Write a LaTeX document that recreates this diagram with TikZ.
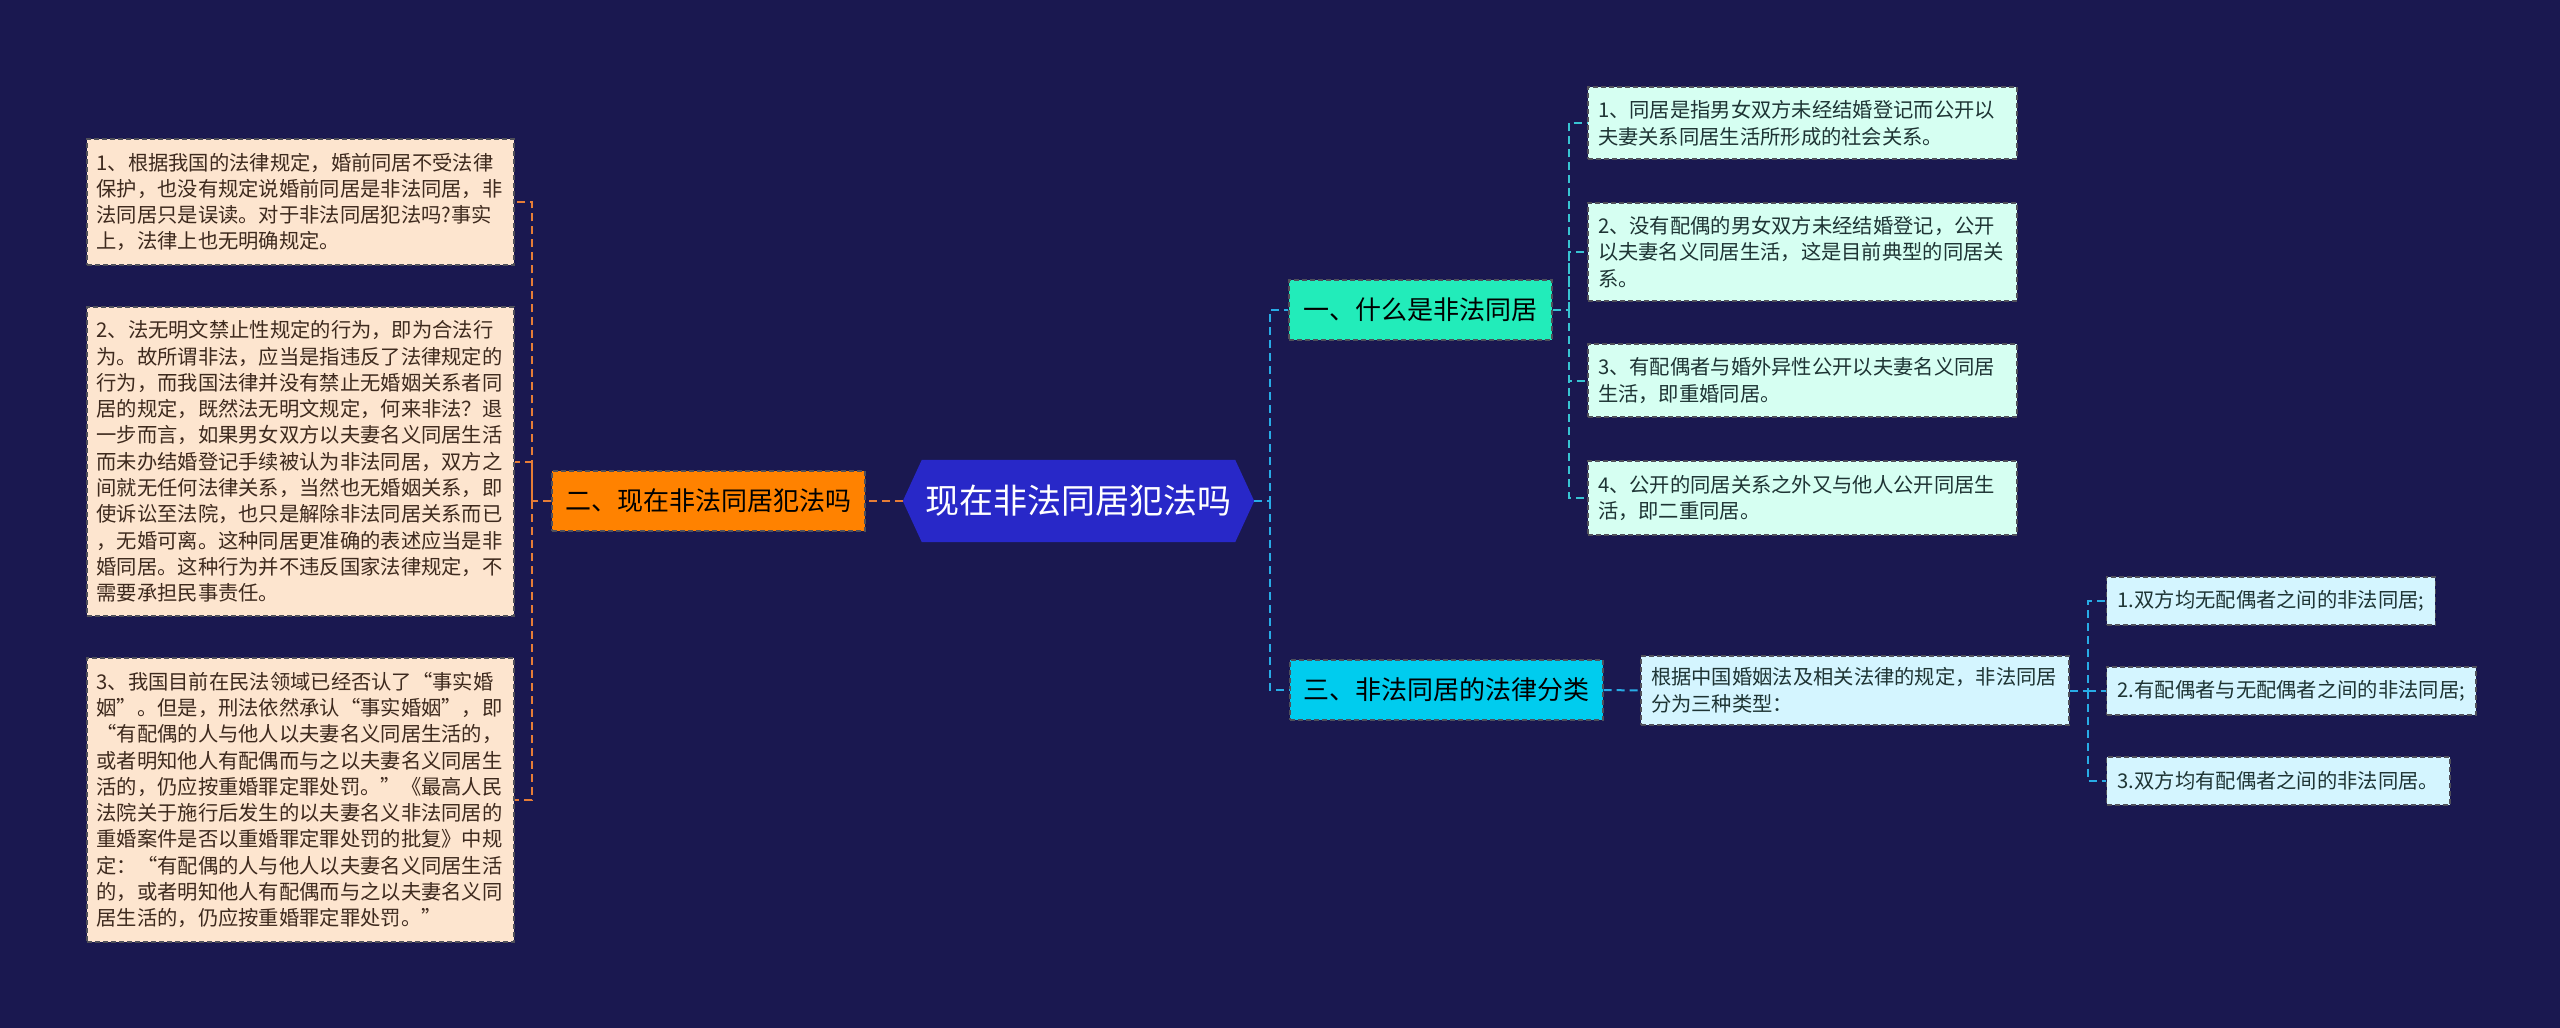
\documentclass[tikz,border=0pt]{standalone}
\usepackage{fontspec}
\setmainfont{Noto Sans CJK SC}
\pgfdeclarelayer{bg}
\pgfsetlayers{bg,main}
\definecolor{bgc}{RGB}{26,24,80}
\definecolor{peach}{RGB}{253,229,207}
\definecolor{peachtxt}{RGB}{62,42,30}
\definecolor{orangec}{RGB}{255,130,0}
\definecolor{orangeline}{RGB}{230,125,55}
\definecolor{rootc}{RGB}{40,40,200}
\definecolor{tealc}{RGB}{34,236,186}
\definecolor{mint}{RGB}{214,255,242}
\definecolor{cyanc}{RGB}{0,204,238}
\definecolor{lcyan}{RGB}{212,245,255}
\definecolor{rtxt}{RGB}{30,52,52}
\definecolor{tline}{RGB}{56,196,210}
\definecolor{bline}{RGB}{40,172,230}
\definecolor{bord}{RGB}{80,80,90}
\tikzset{
  boxbase/.style={draw=bord, line width=1.2pt, dash pattern=on 5pt off 3pt, inner ysep=0pt, align=left},
  lbox/.style={boxbase, fill=peach, text=peachtxt, text width=408pt, inner xsep=9.5pt,
    font=\fontsize{20.3pt}{26.3pt}\selectfont},
  cbox/.style={boxbase, fill=mint, text=rtxt, text width=409pt, inner xsep=10pt,
    font=\fontsize{20.3pt}{26.6pt}\selectfont},
  dbox/.style={boxbase, fill=lcyan, text=rtxt, inner xsep=11pt, minimum height=48pt, anchor=west,
    font=\fontsize{20.3pt}{26.6pt}\selectfont},
  mainbr/.style={boxbase, inner xsep=0pt, align=center, minimum height=60pt,
    font=\fontsize{26pt}{30pt}\selectfont},
  rootnode/.style={inner sep=0pt, minimum width=351pt, minimum height=82pt, text=white,
    font=\fontsize{34pt}{38pt}\selectfont},
  conn/.style={line width=2pt, dash pattern=on 8pt off 5pt},
  oline/.style={conn, draw=orangeline},
  tconn/.style={conn, draw=tline},
  bconn/.style={conn, draw=bline},
}
\begin{document}
\begin{tikzpicture}[x=1pt,y=-1pt]
\begin{pgfonlayer}{bg}
\fill[bgc] (0,0) rectangle (2560,1028);
\end{pgfonlayer}
\useasboundingbox (0,0) rectangle (2560,1028);

% root
\node[rootnode] (r) at (1078.5,501) {现在非法同居犯法吗};
\begin{pgfonlayer}{bg}
\fill[rootc] ([xshift=19pt]r.north west) -- ([xshift=-19pt]r.north east) -- (r.east)
  -- ([xshift=-19pt]r.south east) -- ([xshift=19pt]r.south west) -- (r.west) -- cycle;
\end{pgfonlayer}

% left branch
\node[mainbr, fill=orangec, text={RGB:red,80;green,48;blue,20}, minimum width=313pt] (o) at (708.5,501) {二、现在非法同居犯法吗};
\node[lbox, minimum height=126pt] (b1) at (300.5,202) {1、根据我国的法律规定，婚前同居不受法律\\保护，也没有规定说婚前同居是非法同居，非\\法同居只是误读。对于非法同居犯法吗?事实\\上，法律上也无明确规定。};
\node[lbox, minimum height=309pt] (b2) at (300.5,461.5) {2、法无明文禁止性规定的行为，即为合法行\\为。故所谓非法，应当是指违反了法律规定的\\行为，而我国法律并没有禁止无婚姻关系者同\\居的规定，既然法无明文规定，何来非法？退\\一步而言，如果男女双方以夫妻名义同居生活\\而未办结婚登记手续被认为非法同居，双方之\\间就无任何法律关系，当然也无婚姻关系，即\\使诉讼至法院，也只是解除非法同居关系而已\\，无婚可离。这种同居更准确的表述应当是非\\婚同居。这种行为并不违反国家法律规定，不\\需要承担民事责任。};
\node[lbox, minimum height=284pt] (b3) at (300.5,800) {3、我国目前在民法领域已经否认了“事实婚\\姻”。但是，刑法依然承认“事实婚姻”，即\\“有配偶的人与他人以夫妻名义同居生活的，\\或者明知他人有配偶而与之以夫妻名义同居生\\活的，仍应按重婚罪定罪处罚。”《最高人民\\法院关于施行后发生的以夫妻名义非法同居的\\重婚案件是否以重婚罪定罪处罚的批复》中规\\定：“有配偶的人与他人以夫妻名义同居生活\\的，或者明知他人有配偶而与之以夫妻名义同\\居生活的，仍应按重婚罪定罪处罚。”};

\coordinate (lj) at (532,501);
\draw[oline] (r.west) -- (o.east);
\draw[oline] (o.west) -- (lj) |- (b1.east);
\draw[oline] (lj) |- (b2.east);
\draw[oline] (lj) |- (b3.east);

% right branch 1
\node[mainbr, fill=tealc, text={RGB:red,20;green,60;blue,50}, minimum width=263pt] (n1) at (1420.5,310) {一、什么是非法同居};
\node[cbox, minimum height=72pt] (c1) at (1802.5,123) {1、同居是指男女双方未经结婚登记而公开以\\夫妻关系同居生活所形成的社会关系。};
\node[cbox, minimum height=98pt] (c2) at (1802.5,252) {2、没有配偶的男女双方未经结婚登记，公开\\以夫妻名义同居生活，这是目前典型的同居关\\系。};
\node[cbox, minimum height=73pt] (c3) at (1802.5,380.5) {3、有配偶者与婚外异性公开以夫妻名义同居\\生活，即重婚同居。};
\node[cbox, minimum height=74pt] (c4) at (1802.5,498) {4、公开的同居关系之外又与他人公开同居生\\活，即二重同居。};

% right branch 3
\node[mainbr, fill=cyanc, text={RGB:red,20;green,50;blue,70}, minimum width=313pt] (n3) at (1446.5,690) {三、非法同居的法律分类};
\node[cbox, fill=lcyan, text width=408pt, minimum height=69pt] (desc) at (1855,690.5) {根据中国婚姻法及相关法律的规定，非法同居\\分为三种类型：};
\node[dbox] (d1) at (2106,601) {1.双方均无配偶者之间的非法同居;};
\node[dbox] (d2) at (2106,691) {2.有配偶者与无配偶者之间的非法同居;};
\node[dbox] (d3) at (2106,781) {3.双方均有配偶者之间的非法同居。};

\coordinate (rj) at (1270,501);
\draw[bconn] (r.east) -- (rj) |- (n1.west);
\draw[bconn] (rj) |- (n3.west);

\coordinate (j1) at (1569,310);
\draw[tconn] (n1.east) -- (j1) |- (c1.west);
\draw[tconn] (j1) |- (c2.west);
\draw[tconn] (j1) |- (c3.west);
\draw[tconn] (j1) |- (c4.west);

\draw[bconn] (n3.east) -- (desc.west);
\coordinate (j3) at (2088,690.5);
\draw[bconn] (desc.east) -- (j3) |- (d1.west);
\draw[bconn] (j3) |- (d2.west);
\draw[bconn] (j3) |- (d3.west);
\end{tikzpicture}
\end{document}
